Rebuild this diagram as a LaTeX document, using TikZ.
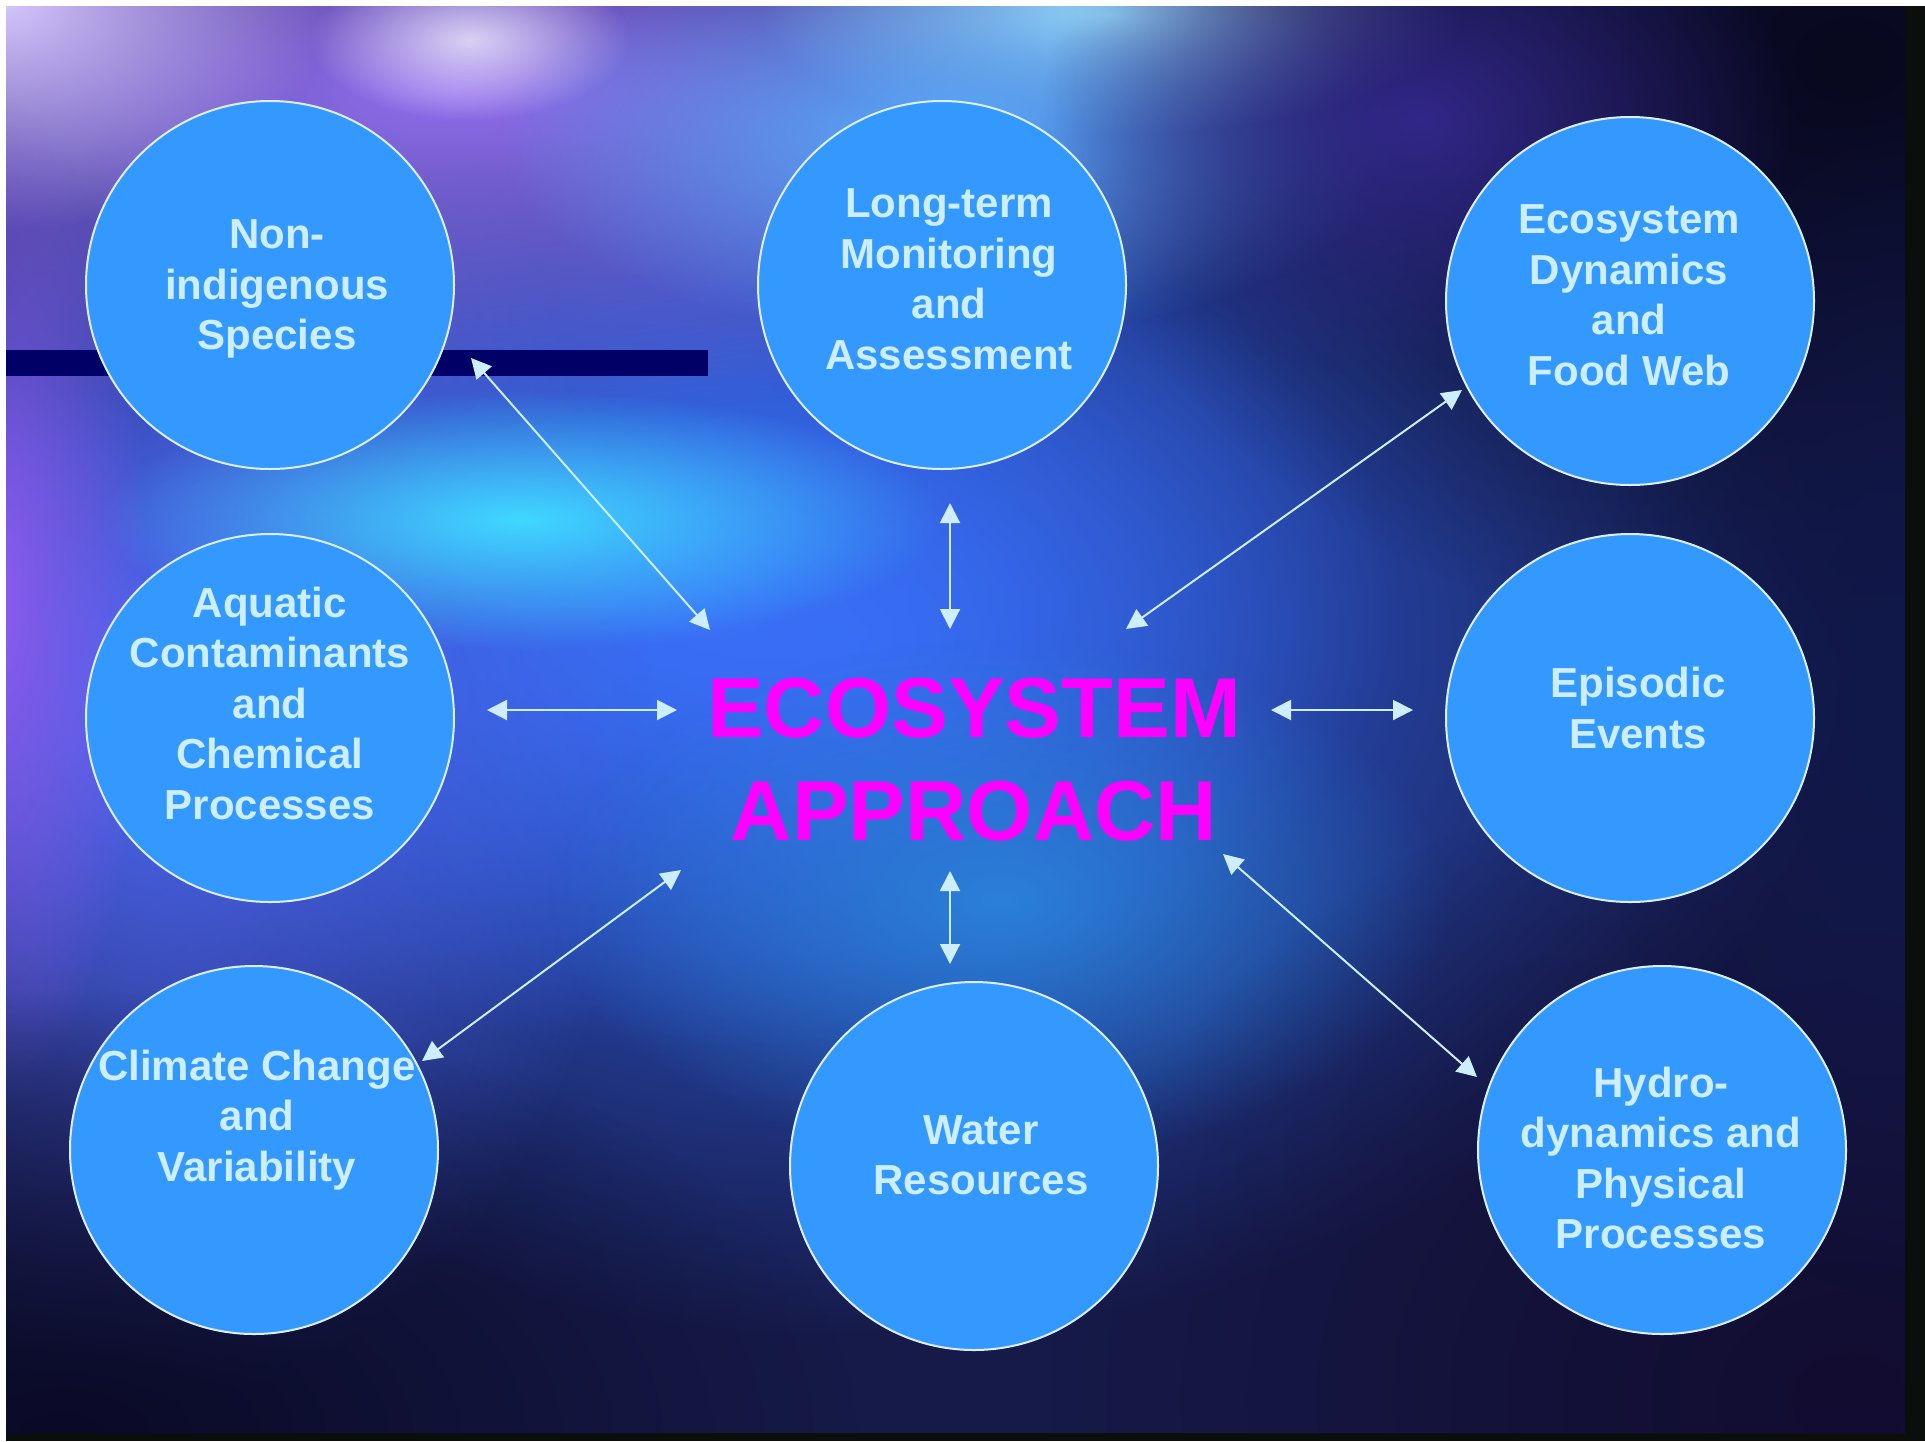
\documentclass[tikz,border=0pt]{standalone}
\usepackage{fontspec}
\setmainfont{Liberation Sans}
\usetikzlibrary{arrows.meta,fadings}

\definecolor{bubblefill}{HTML}{3399FF}
\definecolor{rim}{HTML}{DDEEFF}
\definecolor{ink}{HTML}{CCEEFF}
\definecolor{barblue}{HTML}{000066}
\definecolor{hotpink}{HTML}{FF00FF}
\definecolor{nightsky}{HTML}{161A48}
\definecolor{edge}{HTML}{0A0F0C}

% soft round blob for the nebula
\pgfdeclareradialshading{softshade}{\pgfpointorigin}{color(0bp)=(white); color(25bp)=(black); color(50bp)=(black)}
\pgfdeclarefading{soft}{\pgfuseshading{softshade}}

\begin{document}
\begin{tikzpicture}[x=0.5pt,y=-0.5pt,
	bubble/.style={circle,fill=bubblefill,draw=rim,line width=1pt,minimum size=184pt,inner sep=0pt},
	blurb/.style={text=ink,font=\fontsize{21pt}{25.25pt}\selectfont\bfseries,align=center},
	headline/.style={text=hotpink,font=\fontsize{42.5pt}{51.5pt}\selectfont\bfseries,align=center},
	link/.style={draw=ink,line width=1pt,{Triangle[length=10pt,width=10pt]}-{Triangle[length=10pt,width=10pt]}},
	glow/.style={/utils/exec={\definecolor{glowc}{HTML}{#1}},fill=glowc,path fading=soft}]
	\useasboundingbox (0,0) rectangle (1925,1441);
	%frame
	\fill[white] (0,0) rectangle (1925,1441);
	\fill[edge] (6,1433) rectangle (1925,1441);
	\fill[edge] (1905,6) rectangle (1925,1441);
	%nebula
	\begin{scope}
		\clip (6,6) rectangle (1905,1433);
		\fill[nightsky] (6,6) rectangle (1905,1433);
		\fill[glow=3366EE] (850,640) ellipse (1000 and 700);
		\fill[glow=3A70F8] (700,600) ellipse (700 and 450);
		\fill[glow=5068F4] (150,700) ellipse (500 and 700);
		\fill[glow=9470F0] (450,90) ellipse (900 and 330);
		\fill[glow=D8C8FF] (0,0) ellipse (330 and 230);
		\fill[glow=FFFFFF,opacity=0.7] (470,40) ellipse (160 and 80);
		\fill[glow=B0ECFF] (1110,15) ellipse (350 and 120);
		\fill[glow=40D8FF] (520,520) ellipse (420 and 130);
		\fill[glow=58B0FF] (950,140) ellipse (450 and 200);
		\fill[glow=2A80D8] (1000,900) ellipse (450 and 260);
		\fill[glow=8C5CF0] (0,600) ellipse (150 and 500);
		\fill[glow=08081E] (1850,60) ellipse (800 and 600);
		\fill[glow=3A2C9C,opacity=0.8] (1420,120) ellipse (380 and 260);
		\fill[glow=0A0A26] (60,1440) ellipse (800 and 450);
		\fill[glow=120C30] (1850,1400) ellipse (800 and 650);
		\fill[glow=10184A] (1900,700) ellipse (300 and 600);
	\end{scope}
	%bar
	\fill[barblue] (6,350) rectangle (708,376);
	%circles
	\node[bubble] (nis) at (270,285) {};
	\node[bubble] (ltm) at (942,285) {};
	\node[bubble] (edf) at (1630,301) {};
	\node[bubble] (acp) at (270,718) {};
	\node[bubble] (epi) at (1630,718) {};
	\node[bubble] (ccv) at (254,1150) {};
	\node[bubble] (wat) at (974,1166) {};
	\node[bubble] (hyd) at (1662,1150) {};
	%texts
	\node[blurb] (nis-t) at (277,289) {Non-\\indigenous\\Species};
	\node[blurb] (ltm-t) at (949,279) {Long-term\\Monitoring\\and\\Assessment};
	\node[blurb] (edf-t) at (1629,295) {Ecosystem\\Dynamics\\and\\Food Web};
	\node[blurb] (acp-t) at (270,703) {Aquatic\\Contaminants\\and\\Chemical\\Processes};
	\node[blurb] (epi-t) at (1638,708) {Episodic\\Events};
	\node[blurb] (ccv-t) at (257,1120) {Climate Change\\and\\Variability};
	\node[blurb] (wat-t) at (981,1155) {Water\\Resources};
	\node[blurb] (hyd-t) at (1661,1158) {Hydro-\\dynamics and\\Physical\\Processes};
	\node[headline] (eco) at (974,760) {ECOSYSTEM\\APPROACH};
	%arrow ends
	\coordinate (nis-a) at (471,358);  \coordinate (eco-nw) at (710,630);
	\coordinate (ltm-a) at (950,503);  \coordinate (eco-n) at (950,629);
	\coordinate (edf-a) at (1462,390); \coordinate (eco-ne) at (1126,629);
	\coordinate (acp-a) at (487,710);  \coordinate (eco-w) at (677,710);
	\coordinate (epi-a) at (1413,710); \coordinate (eco-e) at (1271,710);
	\coordinate (ccv-a) at (422,1061); \coordinate (eco-sw) at (681,870);
	\coordinate (wat-a) at (950,964);  \coordinate (eco-s) at (950,871);
	\coordinate (hyd-a) at (1477,1077); \coordinate (eco-se) at (1223,854);
	%arrows
	\draw[link] (nis-a) -- (eco-nw);
	\draw[link] (ltm-a) -- (eco-n);
	\draw[link] (edf-a) -- (eco-ne);
	\draw[link] (acp-a) -- (eco-w);
	\draw[link] (epi-a) -- (eco-e);
	\draw[link] (ccv-a) -- (eco-sw);
	\draw[link] (wat-a) -- (eco-s);
	\draw[link] (hyd-a) -- (eco-se);
\end{tikzpicture}
\end{document}
